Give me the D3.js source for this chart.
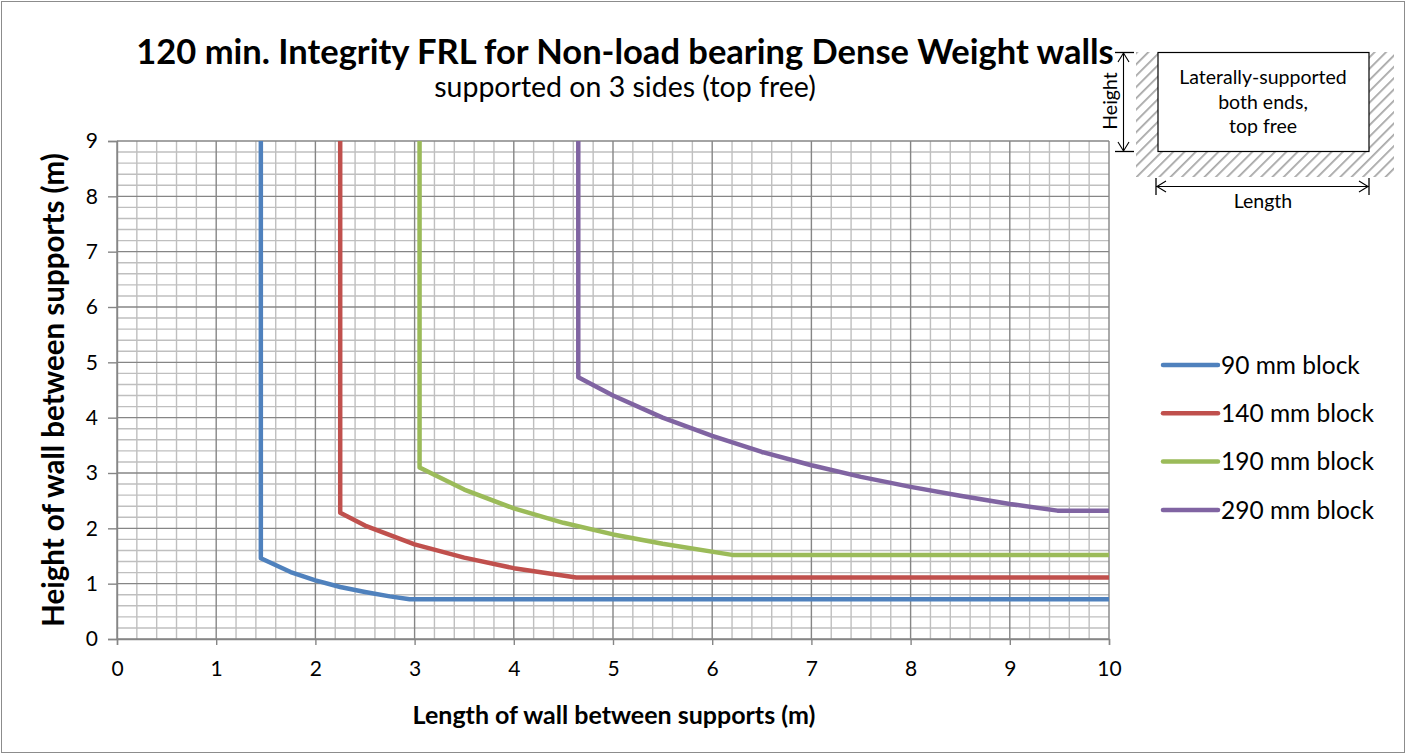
<!DOCTYPE html>
<html>
<head>
<meta charset="utf-8">
<script src="https://cdn.jsdelivr.net/npm/d3@7"></script>
<style>
  body { margin: 0; background: #fff; }
  svg { font-family: Lato, "Open Sans", sans-serif; }
</style>
</head>
<body>
<svg width="1407" height="755"></svg>
<script>
// data
var seriesNames = ["90 mm block", "140 mm block", "190 mm block", "290 mm block"];
var seriesColors = ["#4f81bd", "#c0504d", "#9bbb59", "#8064a2"];

var block90 = [[1.45,9],[1.45,1.46],[1.75,1.21],[2,1.06],[2.25,0.94],[2.5,0.85],[2.75,0.77],[2.95,0.72],[10,0.72]];
var block140 = [[2.25,9],[2.25,2.28],[2.5,2.05],[3,1.71],[3.5,1.47],[4,1.28],[4.63,1.11],[10,1.11]];
var block190 = [[3.05,9],[3.05,3.1],[3.5,2.7],[4,2.36],[4.5,2.1],[5,1.89],[5.5,1.72],[6.2,1.52],[10,1.52]];
var block290 = [[4.65,9],[4.65,4.73],[5,4.4],[5.5,4.0],[6,3.67],[6.5,3.38],[7,3.14],[7.5,2.93],[8,2.75],[8.5,2.59],[9,2.44],[9.48,2.32],[10,2.32]];

var xTicks = [0,1,2,3,4,5,6,7,8,9,10];
var yTicks = [0,1,2,3,4,5,6,7,8,9];
var allSeries = [block90, block140, block190, block290];

var svg = d3.select("svg"),
    margin = {top: 141, left: 117, right: 298, bottom: 116},
    width = 1407 - margin.left - margin.right,
    height = 755 - margin.top - margin.bottom;

// outer border
svg.append("rect")
    .attr("x", 1.5).attr("y", 1.5)
    .attr("width", 1403).attr("height", 751)
    .attr("fill", "#fff").attr("stroke", "#8c8c8c");

var x = d3.scaleLinear().domain([0, 10]).range([0, width]),
    y = d3.scaleLinear().domain([0, 9]).range([height, 0]);

var g = svg.append("g").attr("transform", "translate(" + margin.left + "," + margin.top + ")");

// minor grid
var minorX = d3.range(0, 10.001, 0.2).filter(function(v) { return Math.abs(v - Math.round(v)) > 0.01; });
var minorY = d3.range(0, 9.001, 0.2).filter(function(v) { return Math.abs(v - Math.round(v)) > 0.01; });

g.selectAll(".minx").data(minorX).enter().append("line")
    .attr("x1", function(d) { return x(d); }).attr("x2", function(d) { return x(d); })
    .attr("y1", 0).attr("y2", height)
    .attr("stroke", "#bfbfbf").attr("stroke-width", 1.4);
g.selectAll(".miny").data(minorY).enter().append("line")
    .attr("y1", function(d) { return y(d); }).attr("y2", function(d) { return y(d); })
    .attr("x1", 0).attr("x2", width)
    .attr("stroke", "#bfbfbf").attr("stroke-width", 1.4);

// major grid
g.selectAll(".majx").data(xTicks).enter().append("line")
    .attr("x1", function(d) { return x(d); }).attr("x2", function(d) { return x(d); })
    .attr("y1", 0).attr("y2", height)
    .attr("stroke", "#868686").attr("stroke-width", 1.4);
g.selectAll(".majy").data(yTicks).enter().append("line")
    .attr("y1", function(d) { return y(d); }).attr("y2", function(d) { return y(d); })
    .attr("x1", 0).attr("x2", width)
    .attr("stroke", "#868686").attr("stroke-width", 1.4);

// axes
var xAxis = g.append("g")
    .attr("transform", "translate(0," + height + ")")
    .call(d3.axisBottom(x).tickValues(xTicks).tickSize(6).tickPadding(16).tickFormat(d3.format("d")));
var yAxis = g.append("g")
    .call(d3.axisLeft(y).tickValues(yTicks).tickSize(9).tickPadding(10).tickFormat(d3.format("d")));

[xAxis, yAxis].forEach(function(a) {
  a.select(".domain").attr("stroke", "#868686").attr("stroke-width", 1.4);
  a.selectAll(".tick line").attr("stroke", "#868686").attr("stroke-width", 1.4);
  a.selectAll("text").attr("fill", "#000").style("font-size", "21px").style("font-family", "Lato, sans-serif");
});

// lines
var line = d3.line()
    .x(function(d) { return x(d[0]); })
    .y(function(d) { return y(d[1]); });

g.selectAll(".series").data(allSeries).enter().append("path")
    .attr("d", line)
    .attr("fill", "none")
    .attr("stroke", function(d, i) { return seriesColors[i]; })
    .attr("stroke-width", 4.5)
    .attr("stroke-linejoin", "round");

// titles
svg.append("text")
    .attr("x", 625).attr("y", 64)
    .attr("text-anchor", "middle")
    .style("font-size", "34.5px").style("font-weight", "bold")
    .text("120 min. Integrity FRL for Non-load bearing Dense Weight walls");
svg.append("text")
    .attr("x", 625).attr("y", 97)
    .attr("text-anchor", "middle")
    .style("font-size", "28.5px")
    .text("supported on 3 sides (top free)");

svg.append("text")
    .attr("x", 614).attr("y", 724)
    .attr("text-anchor", "middle")
    .style("font-size", "25px").style("font-weight", "bold")
    .text("Length of wall between supports (m)");
svg.append("text")
    .attr("transform", "translate(64,390) rotate(-90)")
    .attr("text-anchor", "middle")
    .style("font-size", "29.5px").style("font-weight", "bold")
    .text("Height of wall between supports (m)");

// legend
var legend = svg.selectAll(".legend").data(seriesNames).enter().append("g")
    .attr("transform", function(d, i) { return "translate(1163," + (365 + i * 48.3) + ")"; });
legend.append("line")
    .attr("x1", 0).attr("x2", 55).attr("y1", 0).attr("y2", 0)
    .attr("stroke", function(d, i) { return seriesColors[i]; })
    .attr("stroke-width", 4.5).attr("stroke-linecap", "round");
legend.append("text")
    .attr("x", 58).attr("dy", "0.36em")
    .style("font-size", "24.5px")
    .text(function(d) { return d; });

// wall diagram (top right)
var defs = svg.append("defs");
var pat = defs.append("pattern")
    .attr("id", "hatch").attr("patternUnits", "userSpaceOnUse")
    .attr("width", 8).attr("height", 8)
    .attr("patternTransform", "rotate(45)");
pat.append("line")
    .attr("x1", 0).attr("y1", 0).attr("x2", 0).attr("y2", 8)
    .attr("stroke", "#a6a6a6").attr("stroke-width", 3.5);

var dg = svg.append("g");
dg.append("rect").attr("x", 1136).attr("y", 52).attr("width", 258).attr("height", 125)
    .attr("fill", "url(#hatch)");
dg.append("rect").attr("x", 1158).attr("y", 52.5).attr("width", 211).attr("height", 99)
    .attr("fill", "#fff").attr("stroke", "#000").attr("stroke-width", 1.2);
var boxLines = ["Laterally-supported", "both ends,", "top free"];
dg.selectAll(".bl").data(boxLines).enter().append("text")
    .attr("x", 1263).attr("y", function(d, i) { return 84 + i * 24.5; })
    .attr("text-anchor", "middle")
    .style("font-size", "19.5px")
    .text(function(d) { return d; });

// height arrow
dg.append("line").attr("x1", 1115).attr("x2", 1134).attr("y1", 52.5).attr("y2", 52.5).attr("stroke", "#000").attr("stroke-width", 1.3);
dg.append("line").attr("x1", 1115).attr("x2", 1134).attr("y1", 151.5).attr("y2", 151.5).attr("stroke", "#000").attr("stroke-width", 1.3);
dg.append("line").attr("x1", 1123.5).attr("x2", 1123.5).attr("y1", 53).attr("y2", 151).attr("stroke", "#000").attr("stroke-width", 1.1);
dg.append("path").attr("d", "M1118,62 L1123.5,53 L1129,62 M1118,142 L1123.5,151 L1129,142")
    .attr("fill", "none").attr("stroke", "#000").attr("stroke-width", 1.1);
dg.append("text")
    .attr("transform", "translate(1117,101) rotate(-90)")
    .attr("text-anchor", "middle")
    .style("font-size", "19.5px")
    .text("Height");

// length arrow
dg.append("line").attr("x1", 1156).attr("x2", 1369).attr("y1", 186.5).attr("y2", 186.5).attr("stroke", "#000").attr("stroke-width", 1.1);
dg.append("line").attr("x1", 1156).attr("x2", 1156).attr("y1", 178).attr("y2", 195).attr("stroke", "#000").attr("stroke-width", 1.3);
dg.append("line").attr("x1", 1369).attr("x2", 1369).attr("y1", 178).attr("y2", 195).attr("stroke", "#000").attr("stroke-width", 1.3);
dg.append("path").attr("d", "M1166,181 L1157,186.5 L1166,192 M1359,181 L1368,186.5 L1359,192")
    .attr("fill", "none").attr("stroke", "#000").attr("stroke-width", 1.1);
dg.append("text")
    .attr("x", 1263).attr("y", 208)
    .attr("text-anchor", "middle")
    .style("font-size", "19.5px")
    .text("Length");
</script>
</body>
</html>
